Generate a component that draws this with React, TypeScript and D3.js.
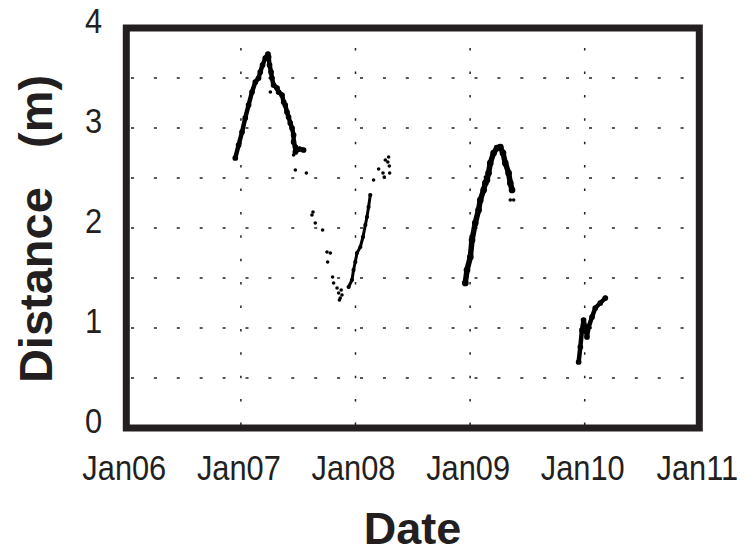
import React from "react";
import * as d3 from "d3";

// axis ticks
const yearTicks = [2006, 2007, 2008, 2009, 2010, 2011];
const yearLabels = ["Jan06", "Jan07", "Jan08", "Jan09", "Jan10", "Jan11"];
const distTicks = [0, 1, 2, 3, 4];
const gridRows = [0.5, 1, 1.5, 2, 2.5, 3, 3.5];
const gridCols = [2007, 2008, 2009, 2010];

// dense stretches: [decimal year, distance m]
const trace07 = [
  [2006.951, 2.70], [2006.980, 2.83], [2007.010, 2.96], [2007.038, 3.10], [2007.067, 3.23],
  [2007.097, 3.36], [2007.126, 3.46], [2007.154, 3.50], [2007.169, 3.56], [2007.189, 3.63],
  [2007.213, 3.70], [2007.236, 3.74], [2007.242, 3.71], [2007.250, 3.63], [2007.263, 3.56],
  [2007.271, 3.50], [2007.285, 3.43], [2007.315, 3.40], [2007.329, 3.36], [2007.359, 3.33],
  [2007.373, 3.26], [2007.387, 3.23], [2007.402, 3.16], [2007.416, 3.11], [2007.431, 3.05],
  [2007.446, 3.00], [2007.460, 2.93], [2007.460, 2.86], [2007.475, 2.81], [2007.475, 2.76],
  [2007.510, 2.79], [2007.547, 2.78],
];
const trace08 = [
  [2007.940, 1.41], [2007.969, 1.48], [2007.983, 1.58], [2007.998, 1.66], [2008.013, 1.75],
  [2008.042, 1.81], [2008.065, 1.91], [2008.086, 2.03], [2008.100, 2.11], [2008.114, 2.21],
  [2008.129, 2.33],
];
const trace09 = [
  [2008.958, 1.45], [2008.973, 1.58], [2009.002, 1.71], [2009.017, 1.88], [2009.045, 2.05],
  [2009.074, 2.18], [2009.089, 2.28], [2009.118, 2.38], [2009.133, 2.45], [2009.147, 2.48],
  [2009.161, 2.55], [2009.176, 2.65], [2009.205, 2.75], [2009.235, 2.80], [2009.264, 2.81],
  [2009.287, 2.75], [2009.307, 2.65], [2009.336, 2.55], [2009.351, 2.45], [2009.366, 2.38],
];
const trace10 = [
  [2009.947, 0.66], [2009.962, 0.81], [2009.976, 0.98], [2009.990, 1.08], [2010.005, 1.01],
  [2010.020, 0.91], [2010.034, 1.01], [2010.064, 1.11], [2010.092, 1.20], [2010.136, 1.25],
  [2010.180, 1.30],
];

// sparse single readings
const scatter = [
  [2007.257, 3.36], [2007.475, 2.58], [2007.571, 2.55], [2007.460, 2.73],
  [2007.620, 2.13], [2007.629, 2.16], [2007.649, 2.05], [2007.713, 1.98], [2007.751, 1.76],
  [2007.780, 1.75], [2007.757, 1.66], [2007.800, 1.51], [2007.809, 1.45], [2007.839, 1.40],
  [2007.853, 1.35], [2007.867, 1.30], [2007.882, 1.33], [2007.860, 1.28], [2007.875, 1.38],
  [2008.158, 2.48], [2008.202, 2.59], [2008.240, 2.55], [2008.251, 2.51], [2008.260, 2.68],
  [2008.289, 2.71], [2008.298, 2.55], [2008.282, 2.66], [2008.295, 2.62],
  [2009.351, 2.28], [2009.380, 2.28], [2009.133, 2.51],
];

const traces = [
  { pts: trace07, w: 4.5 },
  { pts: trace08, w: 3 },
  { pts: trace09, w: 5.5 },
  { pts: trace10, w: 4.5 },
];

const INK = "#231f20";
const FONT = "'Liberation Sans', Arial, Helvetica, sans-serif";

export default function App() {
  const x = d3.scaleLinear().domain([2006, 2011]).range([126.3, 699.3]);
  const y = d3.scaleLinear().domain([0, 4]).range([428, 28]);
  const line = d3.line<number[]>().x(d => x(d[0])).y(d => y(d[1]));

  return (
    <div style={{ position: "fixed", left: 0, top: 0 }}>
      <svg width={746} height={553} style={{ display: "block", background: "#fff" }}>
        {gridRows.map(v => (
          <line key={"r" + v} x1={131} x2={696} y1={y(v)} y2={y(v)}
            stroke={INK} strokeWidth={1.5} strokeDasharray="3 19.9" />
        ))}
        {gridCols.map(v => (
          <line key={"c" + v} x1={x(v)} x2={x(v)} y1={425} y2={32}
            stroke={INK} strokeWidth={1.5} strokeDasharray="2.5 20.9" />
        ))}

        {traces.map((t, i) => (
          <g key={"t" + i}>
            <path d={line(t.pts) || ""} fill="none" stroke="#000" strokeWidth={t.w}
              strokeLinejoin="round" strokeLinecap="round" />
            {t.pts.map((d, j) => (
              <circle key={j} cx={x(d[0])} cy={y(d[1])} r={t.w / 2 + 0.6} fill="#000" />
            ))}
          </g>
        ))}
        {scatter.map((d, i) => (
          <circle key={"s" + i} cx={x(d[0])} cy={y(d[1])} r={1.8} fill="#000" />
        ))}

        <rect x={126.3} y={28} width={573} height={400} fill="none" stroke={INK} strokeWidth={7} />

        {distTicks.map(v => (
          <text key={"y" + v} transform={`translate(102,${y(v) + 5}) scale(0.88,1)`}
            textAnchor="end" fontFamily={FONT} fontSize={35} fill={INK}>{v}</text>
        ))}
        {yearTicks.map((v, i) => (
          <text key={"x" + v} transform={`translate(${x(v) - 2},480) scale(0.88,1)`}
            textAnchor="middle" fontFamily={FONT} fontSize={35} fill={INK}>{yearLabels[i]}</text>
        ))}

        <text x={412.5} y={544} textAnchor="middle" fontFamily={FONT} fontSize={45}
          fontWeight="bold" fill={INK}>Date</text>
        <text transform="translate(52,229) rotate(-90)" textAnchor="middle" fontFamily={FONT}
          fontSize={47} fontWeight="bold" fill={INK} style={{ whiteSpace: "pre" }}>
          {"Distance   (m)"}
        </text>
      </svg>
    </div>
  );
}
